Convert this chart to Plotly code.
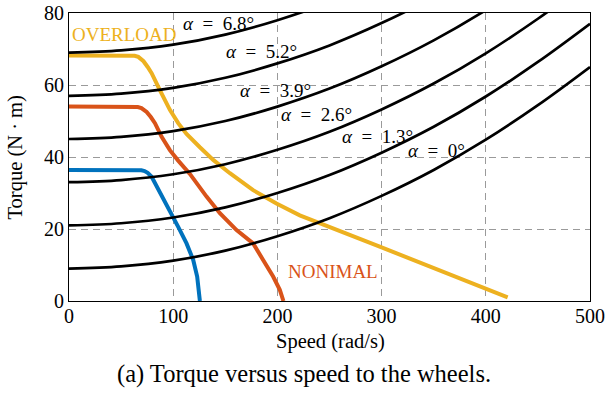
import plotly.graph_objects as go

# ---- data ----
speed_grid = [0, 50, 100, 150, 200, 250, 300, 350, 400, 450, 500]
load_a0 = [9.0, 9.6, 11.2, 14.0, 18.0, 23.0, 29.2, 36.4, 44.8, 54.4, 65.0]
load_a13 = [21.0, 21.6, 23.2, 26.0, 30.0, 35.0, 41.2, 48.4, 56.8, 66.4, 77.0]
load_a26 = [33.0, 33.6, 35.2, 38.0, 42.0, 47.0, 53.2, 60.4, 68.8, 78.4, 89.0]
load_a39 = [45.0, 45.6, 47.2, 50.0, 54.0, 59.0, 65.2, 72.4, 80.8, 90.4, 101.0]
load_a52 = [57.0, 57.6, 59.2, 62.0, 66.0, 71.0, 77.2, 84.4, 92.8, 102.4, 113.0]
load_a68 = [69.0, 69.6, 71.2, 74.0, 78.0, 83.0, 89.2, 96.4, 104.8, 114.4, 125.0]
load_curves = [load_a0, load_a13, load_a26, load_a39, load_a52, load_a68]

blue_x = [0, 66, 69.5, 72.5, 75.5, 79.3, 83.0, 87.2, 96.8, 104.8, 112.8, 119.2, 123.0, 125.6]
blue_y = [36.4, 36.4, 36.3, 36.1, 35.6, 34.5, 32.5, 29.9, 25.3, 20.6, 16.0, 11.4, 6.8, 0.0]

red_x = [0, 62, 66, 69.5, 72.0, 74.5, 78.5, 82.5, 88.9, 96.8, 104.8, 116.0, 132.0, 144.8, 160.8, 176.7, 186.3, 195.9, 202.3, 205.8]
red_y = [54.0, 54.0, 53.9, 53.6, 53.2, 52.5, 51.1, 49.4, 45.6, 41.9, 39.0, 35.3, 29.0, 24.4, 19.7, 16.0, 11.4, 6.8, 3.1, 0.0]

yel_x = [0, 59, 63, 66.5, 69.0, 71.5, 75.5, 79.3, 87.2, 96.8, 104.8, 112.8, 125.6, 138.4, 154.4, 176.7, 199.1, 221.5, 298.2, 362.1, 421.0]
yel_y = [68.2, 68.2, 68.1, 67.8, 67.3, 66.6, 65.0, 63.3, 58.6, 53.1, 49.4, 46.4, 42.7, 39.2, 35.5, 30.8, 27.1, 23.8, 15.1, 7.7, 1.0]

alpha_labels = ["<i>α</i>\u2002=\u20020°", "<i>α</i>\u2002=\u20021.3°", "<i>α</i>\u2002=\u20022.6°",
                "<i>α</i>\u2002=\u20023.9°", "<i>α</i>\u2002=\u20025.2°", "<i>α</i>\u2002=\u20026.8°"]
alpha_label_x = [352.3, 296.0, 237.3, 198.5, 185.0, 143.3]
alpha_label_y = [41.9, 45.6, 51.7, 58.6, 69.2, 77.2]

x_ticks = [0, 100, 200, 300, 400, 500]
y_ticks = [0, 20, 40, 60, 80]

BLUE = "#0072BD"
RED = "#D95319"
YEL = "#EDB120"
FONT = "Liberation Serif"
FS = 19

fig = go.Figure()

for xs, ys, c in [(blue_x, blue_y, BLUE), (red_x, red_y, RED), (yel_x, yel_y, YEL)]:
    fig.add_trace(go.Scatter(x=xs, y=ys, mode="lines",
                             line=dict(color=c, width=4),
                             showlegend=False, hoverinfo="skip"))

for ys in load_curves:
    fig.add_trace(go.Scatter(x=speed_grid, y=ys, mode="lines",
                             line=dict(color="black", width=2.7, shape="spline", smoothing=1.0),
                             showlegend=False, hoverinfo="skip"))

for t, x, y in zip(alpha_labels, alpha_label_x, alpha_label_y):
    fig.add_annotation(x=x, y=y, text=t, showarrow=False,
                       font=dict(family=FONT, size=FS, color="black"),
                       xanchor="center", yanchor="middle")

fig.add_annotation(x=53.2, y=73.9, text="OVERLOAD", showarrow=False,
                   font=dict(family=FONT, size=FS, color=YEL),
                   xanchor="center", yanchor="middle")
fig.add_annotation(x=253.6, y=8.1, text="NONIMAL", showarrow=False,
                   font=dict(family=FONT, size=FS, color=RED),
                   xanchor="center", yanchor="middle")

# axis titles and caption
fig.add_annotation(x=0.501, y=-0.139, xref="paper", yref="paper",
                   text="Speed (rad/s)", showarrow=False,
                   font=dict(family=FONT, size=20.5, color="black"),
                   xanchor="center", yanchor="middle")
fig.add_annotation(x=-0.1027, y=0.5, xref="paper", yref="paper",
                   text="Torque (N · m)", showarrow=False, textangle=-90,
                   font=dict(family=FONT, size=20.5, color="black"),
                   xanchor="center", yanchor="middle")
fig.add_annotation(x=0.451, y=-0.253, xref="paper", yref="paper",
                   text="(a) Torque versus speed to the wheels.", showarrow=False,
                   font=dict(family=FONT, size=24.5, color="black"),
                   xanchor="center", yanchor="middle")

axis_common = dict(showline=True, linecolor="black", linewidth=1, mirror=True,
                   showgrid=True, gridcolor="#9a9a9a", gridwidth=1, griddash="7px,5px",
                   zeroline=False, ticks="", automargin=False,
                   tickfont=dict(family=FONT, size=20, color="black"))

fig.update_xaxes(range=[0, 500], tickvals=x_ticks, ticklabelstandoff=-3, **axis_common)
fig.update_yaxes(range=[0, 80], tickvals=y_ticks, **axis_common)

fig.update_layout(width=606, height=393,
                  margin=dict(l=69, r=16, t=13, b=92, autoexpand=False),
                  plot_bgcolor="white", paper_bgcolor="white",
                  font=dict(family=FONT, size=FS, color="black"))

fig.write_html("out.html", config={"displayModeBar": False},
               post_script="document.body.style.margin='0';document.body.style.overflow='hidden';")
